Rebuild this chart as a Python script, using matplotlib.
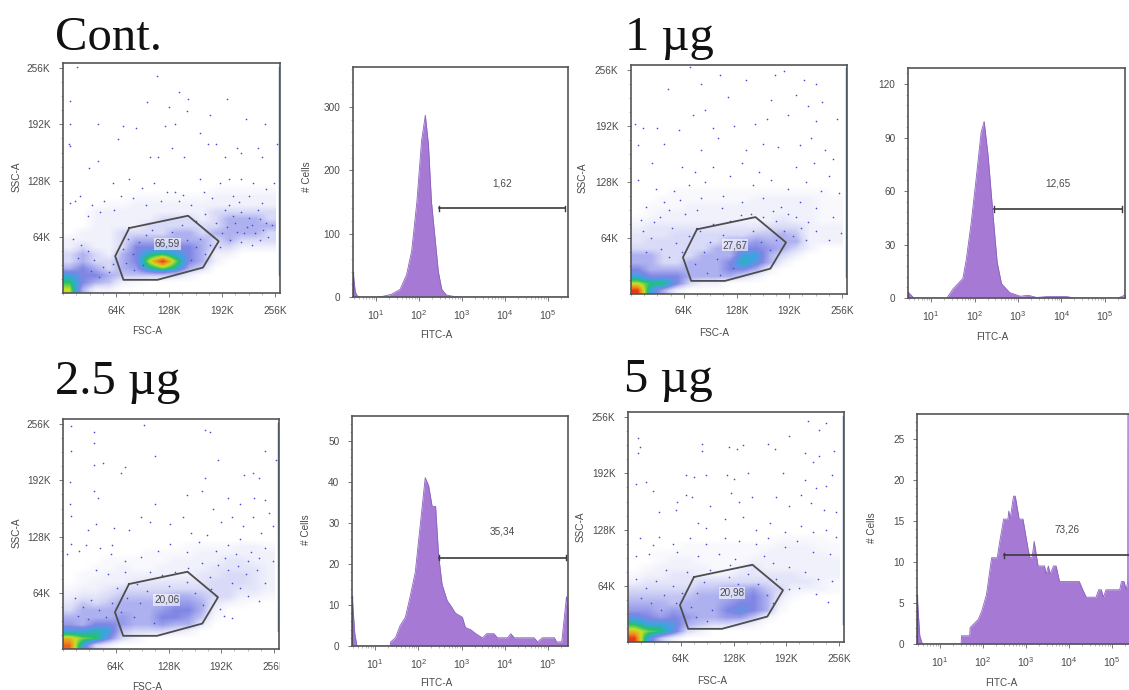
import matplotlib
matplotlib.use('Agg')
import matplotlib.pyplot as plt
from matplotlib.colors import LinearSegmentedColormap
from matplotlib.ticker import AutoMinorLocator, FixedLocator, NullFormatter
from matplotlib.transforms import Bbox, IdentityTransform, TransformedBbox

plt.rcParams['font.family'] = ['Liberation Sans', 'DejaVu Sans']
plt.rcParams['mathtext.default'] = 'regular'

W, H = 1129, 690
GREY = '#4a4a4a'
PURPLE = '#a67ad4'

# gate polygon (k units), same on every dot plot
gate_x = [80, 151, 188, 169, 114, 73, 63, 80]
gate_y = [74, 88, 59, 29, 15, 15, 42, 74]
grid_x = [0, 256]
grid_y = [0, 128]
scatter_ticks = [64, 128, 192, 256]
scatter_labels = ['64K', '128K', '192K', '256K']

# density read by eye, 16k columns, 8k rows, bottom row first (0 white .. 9 red)
cont_grid = [
    [7, 3, 1, 1, 0, 0, 0, 0, 0, 0, 0, 0, 0, 0, 0, 0],
    [6, 4, 3, 2.5, 1, 0.5, 0, 0, 0, 0, 0, 0, 0, 0, 0, 0],
    [5, 4, 4, 3, 2.5, 2.5, 2.5, 2.5, 2, 1, 0, 0, 0, 0, 0, 0],
    [3, 4, 3, 2, 3, 3.5, 5.5, 6.5, 5.5, 3, 2, 0, 0, 0, 0, 0],
    [2, 3, 2, 2, 3, 4, 7, 9, 6.5, 4, 3, 1, 0, 0, 0, 0],
    [2, 3, 2, 1, 3, 4, 5.5, 6, 5, 4, 3, 1, 1, 0, 0, 0],
    [1, 2, 1, 1, 2, 4, 4, 4, 4, 4, 3, 2, 2, 1, 1, 1],
    [1, 1, 1, 1, 2, 3, 3, 3, 3, 3, 3, 2, 3, 2, 2, 2],
    [0, 1, 1, 1, 2, 2, 2, 2, 3, 3, 2, 3, 3, 3, 3, 2],
    [0, 0, 1, 1, 1, 1, 2, 2, 2, 2, 2, 2, 3, 3, 3, 3],
    [0, 0, 1, 1, 1, 1, 1, 2, 2, 2, 1, 2, 3, 3, 3, 2],
    [0, 0, 1, 1, 1, 1, 1, 1, 1, 1, 1, 2, 2, 2, 2, 2],
    [0, 0, 0, 0.5, 0.5, 1, 1, 1, 1, 1, 1, 1, 1, 1, 1, 1],
    [0, 0, 0, 0, 0, 0.5, 0.5, 0.5, 0.5, 0.5, 0.5, 1, 1, 1, 1, 1],
    [0, 0, 0, 0, 0, 0, 0, 0, 0, 0, 0, 0.5, 0.5, 0.5, 0.5, 0.5],
    [0, 0, 0, 0, 0, 0, 0, 0, 0, 0, 0, 0, 0, 0, 0, 0],
]
ug1_grid = [
    [9, 5, 3, 1, 0, 0, 0, 0, 0, 0, 0, 0, 0, 0, 0, 0],
    [7, 6, 6, 4, 2, 1, 1, 0, 0, 0, 0, 0, 0, 0, 0, 0],
    [5, 4, 4, 4, 3, 3, 3, 3, 2, 1, 0, 0, 0, 0, 0, 0],
    [4, 3, 3, 3, 3, 3, 3, 4, 4, 3, 1, 0, 0, 0, 0, 0],
    [3, 3, 2, 2, 3, 3, 3, 4, 5.5, 4.5, 3, 1, 0, 0, 0, 0],
    [3, 3, 2, 2, 2, 3, 3, 3, 5, 5, 3, 2, 1, 0, 0, 0],
    [2, 2, 2, 2, 2, 2, 3, 3, 4, 4, 3.5, 3, 2, 1, 0, 0],
    [1.5, 2, 2, 2, 2, 2, 2, 3, 3, 3.5, 3, 3, 3, 1, 1, 1],
    [1.5, 1.5, 1.5, 2, 2, 2, 2, 2, 2, 2.5, 2.5, 3, 2.5, 1, 1, 1],
    [1, 1.5, 1.5, 1.5, 1.5, 1.5, 1.5, 1.5, 1.5, 1.5, 2, 2, 2, 1, 1, 1],
    [0.5, 1, 1, 1, 1, 1, 1, 1, 1, 1, 1, 1.5, 1, 1, 0.5, 0.5],
    [0, 0.5, 1, 1, 1, 1, 1, 1, 1, 1, 1, 1, 1, 1, 0.5, 0.5],
    [0, 0.5, 0.5, 0.5, 1, 1, 1, 1, 1, 1, 1, 1, 1, 1, 0.5, 0.5],
    [0, 0, 0.5, 0.5, 0.5, 0.5, 0.5, 0.5, 0.5, 1, 1, 1, 1, 1, 0.5, 0.5],
    [0, 0, 0, 0.5, 0.5, 0.5, 0.5, 0.5, 0.5, 0.5, 0.5, 0.5, 0.5, 0.5, 0.5, 0],
    [0, 0, 0, 0, 0, 0, 0, 0, 0, 0, 0, 0, 0, 0, 0, 0],
]
ug25_grid = [
    [8.5, 5, 2, 1, 0, 0, 0, 0, 0, 0, 0, 0, 0, 0, 0, 0],
    [7.5, 6.5, 6, 4, 2, 1, 0, 0, 0, 0, 0, 0, 0, 0, 0, 0],
    [5, 5, 5.5, 5, 2.5, 2, 2, 2, 1.5, 1, 0, 0, 0, 0, 0, 0],
    [3.5, 3, 4, 4, 3.5, 3, 3, 3.5, 3, 3, 1.5, 0, 0, 0, 0, 0],
    [3, 3, 3, 3, 3.5, 3, 3, 4, 4, 3.5, 2.5, 0.5, 0, 0, 0, 0],
    [2, 3, 3, 3, 3, 3, 3, 3.5, 4, 4, 3, 1, 0, 0, 0, 0],
    [1.5, 2.5, 2, 2.5, 3, 3, 3, 3, 3.5, 3.5, 3, 1.5, 1, 0.5, 0, 0],
    [1, 1.5, 1.5, 2, 2.5, 2.5, 2.5, 2.5, 3, 3, 2.5, 2, 2, 1, 1, 0.5],
    [0.5, 1, 1, 1.5, 2, 2, 2, 2, 2, 2, 2, 2, 2, 1.5, 1.5, 1],
    [0, 0.5, 1, 1, 1, 1.5, 1.5, 1.5, 1.5, 1.5, 1.5, 2, 2, 2, 1.5, 1],
    [0, 0.5, 0.5, 1, 1, 1, 1, 1, 1, 1, 1.5, 1.5, 2, 2, 1.5, 1],
    [0, 0, 0.5, 0.5, 1, 0.5, 0.5, 1, 1, 1, 1, 1.5, 1.5, 1.5, 1.5, 1],
    [0, 0, 0, 0.5, 0.5, 0.5, 0.5, 0.5, 1, 1, 1, 1, 1.5, 1.5, 1, 1],
    [0, 0, 0, 0, 0, 0, 0.5, 0.5, 0.5, 0.5, 1, 1, 1, 1, 1, 1],
    [0, 0, 0, 0, 0, 0, 0, 0, 0, 0.5, 0.5, 0.5, 0.5, 1, 1, 0.5],
    [0, 0, 0, 0, 0, 0, 0, 0, 0, 0, 0, 0, 0, 0, 0, 0],
]
ug5_grid = [
    [9, 5, 2.5, 1, 0, 0, 0, 0, 0, 0, 0, 0, 0, 0, 0, 0],
    [7.5, 6.5, 6, 4.5, 2, 1, 0, 0, 0, 0, 0, 0, 0, 0, 0, 0],
    [6, 5, 5, 4.5, 3, 2.5, 2, 2, 1.5, 1, 0, 0, 0, 0, 0, 0],
    [4.5, 4, 3.5, 4, 3.5, 3, 3, 3.5, 3.5, 2.5, 1, 0, 0, 0, 0, 0],
    [3.5, 3.5, 3, 3.5, 3, 3, 3, 4, 4.5, 4, 3, 0.5, 0, 0, 0, 0],
    [3, 3, 3, 2.5, 3, 3, 3, 3.5, 4, 4, 3, 1, 0, 0, 0, 0],
    [2.5, 2.5, 2.5, 2.5, 2.5, 3, 3, 3, 3.5, 4, 3, 1.5, 0.5, 0, 0, 0],
    [2, 2, 2, 2, 2, 2.5, 2.5, 3, 3, 3.5, 2.5, 2, 1, 1, 1, 0.5],
    [1, 1.5, 1.5, 1.5, 1.5, 2, 2, 2, 2, 2, 2, 1.5, 1.5, 1.5, 1, 0.5],
    [0.5, 1, 1, 1.5, 1.5, 1, 1, 1, 1.5, 1.5, 1.5, 1.5, 1.5, 1, 1, 1],
    [0, 0.5, 1, 1, 1, 1, 0.5, 0.5, 1, 1.5, 1, 1, 1, 1, 1, 1],
    [0, 0, 0.5, 1, 1, 0.5, 0.5, 0.5, 0.5, 1, 1, 1, 1, 1, 1, 1],
    [0, 0, 0.5, 0.5, 0.5, 0.5, 0.5, 0.5, 0.5, 0.5, 1, 1, 1, 1, 1, 0.5],
    [0, 0, 0, 0, 0.5, 0.5, 0.5, 0.5, 0.5, 0.5, 0.5, 1, 1, 1, 0.5, 0.5],
    [0, 0, 0, 0, 0, 0, 0, 0, 0, 0, 0, 0.5, 0.5, 0.5, 0.5, 0],
    [0, 0, 0, 0, 0, 0, 0, 0, 0, 0, 0, 0, 0, 0, 0, 0],
]

cont_dots = [(17, 257), (8, 219), (114, 247), (140, 229), (151, 221), (102, 218), (128, 212), (150, 207),
             (198, 221), (8, 193), (42, 193), (177, 203), (221, 198), (72, 190), (88, 188), (123, 190),
             (135, 193), (165, 182), (244, 192), (7, 170), (8, 168), (67, 175), (42, 150), (31, 142),
             (105, 155), (115, 155), (132, 165), (146, 155), (175, 170), (185, 170), (195, 155), (215, 160),
             (235, 165), (240, 155), (258, 170), (210, 165), (60, 125), (80, 130), (95, 120), (110, 125),
             (125, 115), (135, 115), (145, 112), (165, 130), (170, 115), (190, 125), (200, 130), (215, 130),
             (230, 125), (245, 118), (255, 125), (225, 110), (205, 110), (180, 108), (155, 100), (140, 105),
             (118, 105), (100, 100), (85, 108), (70, 110), (50, 105), (35, 100), (15, 105), (8, 102),
             (20, 110), (30, 88), (45, 92), (62, 95), (195, 95), (205, 88), (215, 92), (225, 85),
             (235, 95), (245, 80), (198, 75), (210, 70), (222, 75), (232, 68), (242, 72), (252, 78),
             (202, 60), (215, 58), (228, 55), (238, 60), (192, 68), (185, 80), (172, 90), (160, 82),
             (12, 62), (22, 55), (30, 48), (18, 40), (38, 38), (48, 30), (55, 24), (44, 18), (34, 25), (60, 33),
             (72, 50), (78, 62), (84, 44), (92, 58), (100, 66), (108, 72), (118, 62), (132, 70), (144, 78),
             (150, 60), (160, 52), (172, 44), (166, 62), (178, 55), (155, 38), (96, 32), (86, 26), (76, 34),
             (190, 52), (208, 80), (218, 68), (228, 78), (238, 84), (248, 64), (200, 100), (212, 104), (240, 102)]
ug1_dots = [(72, 260), (108, 250), (140, 245), (175, 250), (185, 255), (210, 245), (225, 240), (45, 235),
            (85, 240), (118, 225), (170, 222), (200, 228), (215, 215), (232, 220), (75, 205), (90, 210),
            (5, 195), (15, 190), (32, 190), (58, 188), (100, 190), (125, 192), (150, 195), (165, 200),
            (190, 205), (225, 198), (250, 200), (8, 170), (40, 172), (85, 165), (105, 178), (140, 165),
            (160, 172), (178, 168), (205, 170), (218, 178), (235, 165), (245, 155), (25, 150), (62, 145),
            (78, 140), (100, 145), (135, 150), (155, 140), (200, 145), (222, 150), (240, 135), (8, 130),
            (30, 120), (52, 118), (70, 125), (90, 128), (120, 135), (148, 125), (170, 130), (190, 120),
            (212, 128), (230, 118), (252, 115), (18, 100), (40, 105), (60, 108), (85, 110), (112, 112),
            (135, 105), (160, 110), (182, 100), (205, 105), (225, 98), (245, 88), (12, 85), (35, 88),
            (225, 72), (240, 62), (255, 70), (215, 82), (200, 88), (190, 92), (172, 95), (145, 92),
            (14, 72), (24, 64), (36, 52), (18, 48), (46, 42), (54, 58), (62, 48), (70, 66), (50, 76), (28, 82),
            (78, 34), (88, 48), (96, 60), (104, 40), (112, 68), (124, 30), (136, 62), (148, 72), (158, 60),
            (168, 50), (176, 62), (186, 72), (196, 66), (206, 76), (212, 62), (92, 24), (108, 22), (84, 72), (100, 80),
            (120, 84), (134, 90), (160, 88), (176, 84), (66, 92), (46, 96), (80, 96), (110, 98)]
ug25_dots = [(10, 254), (38, 247), (98, 255), (172, 250), (178, 247), (10, 225), (112, 220), (38, 235),
             (37, 210), (48, 212), (70, 200), (75, 207), (188, 215), (220, 198), (230, 200), (238, 195),
             (258, 215), (245, 225), (172, 195), (8, 190), (38, 180), (42, 172), (8, 165), (10, 152),
             (112, 165), (95, 150), (105, 145), (150, 175), (168, 180), (182, 160), (200, 172), (215, 165),
             (232, 172), (245, 170), (250, 155), (30, 135), (40, 142), (62, 138), (80, 135), (130, 142),
             (145, 150), (155, 132), (175, 130), (192, 145), (205, 150), (218, 140), (230, 150), (240, 132),
             (255, 140), (5, 108), (10, 120), (20, 112), (28, 118), (45, 115), (60, 118), (58, 108),
             (75, 100), (95, 105), (115, 112), (130, 120), (150, 110), (165, 122), (185, 112), (200, 118),
             (215, 125), (228, 110), (245, 115), (255, 100), (40, 90), (55, 85), (75, 88), (105, 88),
             (200, 90), (212, 95), (222, 85), (235, 90), (245, 75), (225, 60), (215, 70), (205, 75),
             (238, 55), (190, 45), (195, 38), (205, 35), (185, 60), (178, 82),
             (14, 58), (24, 48), (34, 56), (44, 44), (52, 36), (60, 52), (18, 38), (30, 34), (70, 42), (78, 58),
             (86, 36), (94, 52), (102, 66), (110, 30), (118, 58), (128, 72), (140, 60), (150, 76), (160, 64),
             (170, 50), (180, 68), (90, 74), (66, 70), (120, 84), (136, 88), (152, 92), (168, 98), (188, 96),
             (196, 104), (210, 108), (224, 100), (238, 104)]
ug5_dots = [(12, 232), (14, 222), (12, 215), (90, 225), (90, 218), (122, 222), (132, 220), (140, 224),
            (170, 225), (178, 220), (195, 235), (218, 252), (240, 250), (232, 242), (215, 215), (225, 205),
            (232, 212), (250, 218), (70, 190), (80, 188), (95, 190), (120, 190), (128, 186), (145, 192),
            (188, 192), (215, 185), (228, 175), (240, 178), (248, 190), (10, 180), (22, 182), (30, 172),
            (60, 160), (70, 168), (78, 165), (100, 155), (125, 170), (135, 160), (150, 165), (180, 165),
            (195, 155), (210, 168), (222, 158), (238, 150), (252, 148), (38, 148), (58, 150), (85, 135),
            (95, 130), (118, 140), (140, 142), (155, 128), (172, 135), (190, 125), (210, 132), (225, 125),
            (240, 128), (252, 120), (15, 118), (30, 110), (38, 120), (55, 112), (75, 118), (95, 112),
            (118, 118), (135, 115), (155, 112), (170, 118), (190, 108), (205, 115), (225, 102), (245, 100),
            (10, 98), (25, 100), (60, 102), (85, 98), (110, 100), (130, 95), (165, 98), (195, 85),
            (215, 80), (230, 72), (248, 70), (195, 60), (208, 62), (228, 55), (242, 45), (180, 72),
            (10, 72), (22, 62), (34, 70), (44, 54), (54, 64), (16, 50), (28, 44), (40, 36), (58, 44), (66, 56),
            (76, 40), (84, 56), (92, 68), (102, 36), (112, 60), (122, 74), (134, 66), (146, 78), (158, 66),
            (168, 54), (176, 44), (82, 28), (96, 24), (46, 82), (72, 80), (100, 82), (124, 88), (148, 88), (176, 90)]

# histograms: log10 of FITC-A and # Cells at each break of the outline
cont_fitc = [0.47, 0.49, 0.52, 0.56, 0.62, 1.0, 1.15, 1.35, 1.56, 1.71, 1.83, 1.95, 2.06, 2.147, 2.22, 2.29, 2.37, 2.45, 2.53, 2.64, 2.8, 3.0, 5.47]
cont_cells = [38, 25, 8, 2, 0, 0, 1, 4, 12, 35, 73, 150, 247, 287, 240, 150, 95, 40, 12, 3, 1, 0, 0]
ug1_fitc = [0.47, 0.52, 0.6, 1.0, 1.36, 1.5, 1.73, 1.81, 1.92, 2.04, 2.15, 2.22, 2.31, 2.43, 2.52, 2.62, 2.81, 3.05, 3.24, 3.43, 3.66, 4.13, 4.28, 5.3, 5.41, 5.47]
ug1_cells = [3, 2, 0, 0, 0, 5, 11, 22, 42, 68, 93, 99, 80, 45, 20, 8, 3, 1, 1.5, 0.3, 0.8, 0.8, 0, 0, 1, 2]
ug25_fitc = [0.47, 0.53, 0.58, 1.35, 1.36, 1.47, 1.58, 1.7, 1.81, 1.93, 2.05, 2.16, 2.24, 2.32, 2.4, 2.47, 2.55, 2.67, 2.74, 2.86, 3.02, 3.09, 3.21, 3.33, 3.48, 3.49, 3.58, 3.75, 3.83, 4.06, 4.07, 4.14, 4.22, 4.68, 4.76, 4.87, 5.15, 5.2, 5.32, 5.43, 5.47]
ug25_cells = [12, 3, 0, 0, 1, 2, 5, 7, 12, 18, 30, 41, 39, 34, 34, 22, 15, 11, 10, 8, 7, 4.5, 4, 3, 2, 2, 3, 3, 2, 2, 2, 3, 2, 2, 1, 2, 2, 1, 1, 12, 9]
ug5_fitc = [0.47, 0.53, 0.59, 1.49, 1.5, 1.69, 1.7, 1.89, 1.97, 2.08, 2.2, 2.33, 2.39, 2.48, 2.58, 2.6, 2.63, 2.71, 2.75, 2.84, 2.93, 3.05, 3.09, 3.14, 3.19, 3.28, 3.43, 3.47, 3.52, 3.56, 3.64, 3.7, 3.78, 4.24, 4.32, 4.4, 4.63, 4.69, 4.75, 4.8, 4.86, 5.18, 5.22, 5.28, 5.33, 5.365, 5.37, 5.47]
ug5_cells = [5.8, 1, 0, 0, 1, 1, 2, 3, 4, 6, 10.5, 10.5, 12.5, 15.2, 15.2, 16.2, 15.2, 18, 18, 15.2, 15.2, 11.5, 10.5, 10.5, 12.5, 9.5, 9.5, 8.5, 9.5, 8.5, 9.5, 9.5, 7.6, 7.6, 6.6, 5.7, 5.7, 6.6, 6.6, 5.7, 6.6, 6.6, 7.6, 7.6, 6.6, 7.6, 28, 28]


def axes_px(fig, left, top, right, bottom):
    return fig.add_axes([left / W, 1 - bottom / H, (right - left) / W, (bottom - top) / H])


def label_px(fig, x, y, s, rotation=0):
    fig.text(x / W, 1 - y / H, s, ha='center', va='center', rotation=rotation, fontsize=7.2, color=GREY)


def title_px(fig, x, y, s):
    fig.text(x / W, 1 - y / H, s, ha='left', va='baseline', fontsize=35, color='#111111',
             family=['Liberation Serif', 'DejaVu Serif'])


def style_axes(ax):
    for sp in ax.spines.values():
        sp.set_color('#555555')
        sp.set_linewidth(1.2)
    ax.tick_params(which='major', length=3, width=0.7, color='#777777', labelsize=7.2, labelcolor=GREY, pad=6)
    ax.tick_params(which='minor', length=1.5, width=0.5, color='#999999')


def dot_plot(fig, box, grid, dots, edge_top, gate_text):
    ax = axes_px(fig, *box)
    ax.imshow(grid, origin='lower', extent=grid_x + grid_y, cmap=density, vmin=0, vmax=9,
              interpolation='bilinear', aspect='auto', zorder=1)
    ax.scatter([d[0] for d in dots], [d[1] for d in dots], s=1.4, c='#4a4ad0', linewidths=0, zorder=2)
    ax.plot([261, 261], [20, edge_top], color='#2f6fb0', lw=1, zorder=2)
    ax.plot(gate_x, gate_y, color='#4d4d4d', lw=1.3, zorder=3)
    ax.text(126, 56, gate_text, ha='center', va='center', fontsize=7.2, color=GREY, zorder=4,
            bbox=dict(fc='white', ec='none', alpha=0.6, pad=0.6))
    ax.set_xlim(0, 262)
    ax.set_ylim(0, 262)
    ax.set_xticks(scatter_ticks, scatter_labels)
    ax.set_yticks(scatter_ticks, scatter_labels)
    ax.xaxis.set_minor_locator(AutoMinorLocator(4))
    ax.yaxis.set_minor_locator(AutoMinorLocator(4))
    style_axes(ax)
    return ax


def histogram(fig, box, fitc, cells, ymax, yticks, yminor, gate_from, gate_to, gate_y_val, gate_text, text_xy):
    ax = axes_px(fig, *box)
    xs = [10 ** v for v in fitc]
    ax.set_xscale('log')
    ax.fill_between(xs, cells, 0, color=PURPLE, lw=0, zorder=1)
    ax.plot(xs, cells, color='#8a62bd', lw=0.6, zorder=2)
    ax.plot([xs[0], xs[0]], [0, cells[0]], color='#3d2a78', lw=1.6, zorder=2)
    ax.plot([10 ** gate_from, 10 ** gate_to], [gate_y_val, gate_y_val], color='#3a3a3a', lw=1.2, zorder=3)
    ax.plot([10 ** gate_from] * 2, [gate_y_val - ymax * 0.012, gate_y_val + ymax * 0.012], color='#3a3a3a', lw=1, zorder=3)
    ax.plot([10 ** gate_to] * 2, [gate_y_val - ymax * 0.012, gate_y_val + ymax * 0.012], color='#3a3a3a', lw=1, zorder=3)
    label_px(fig, text_xy[0], text_xy[1], gate_text)
    ax.set_xlim(10 ** 0.465, 10 ** 5.465)
    ax.set_ylim(0, ymax)
    ax.set_yticks(yticks)
    ax.yaxis.set_minor_locator(FixedLocator(yminor))
    ax.xaxis.set_major_locator(FixedLocator([10, 100, 1000, 10000, 100000]))
    ax.xaxis.set_minor_locator(FixedLocator([m * d for d in (1, 10, 100, 1000, 10000, 100000) for m in range(2, 10)]))
    ax.xaxis.set_minor_formatter(NullFormatter())
    style_axes(ax)
    ax.tick_params(axis='x', which='major', pad=5, labelsize=7.6)
    return ax


density = LinearSegmentedColormap.from_list('flow', [
    '#ffffff', '#f1f1fc', '#d8daf7', '#aeb1ef', '#7f86e4', '#3aa5e0', '#25c070', '#c8e020', '#f09020', '#e83a10'])

fig = plt.figure(figsize=(W / 100, H / 100), dpi=100)

title_px(fig, 55, 50, 'Cont.')
title_px(fig, 625, 50, '1 µg')
title_px(fig, 55, 394, '2.5 µg')
title_px(fig, 624, 392, '5 µg')

dot_plot(fig, (63, 63, 280, 293), cont_grid, cont_dots, 258, '66,59')
label_px(fig, 147, 331, 'FSC-A')
label_px(fig, 17, 177, 'SSC-A', 90)

dot_plot(fig, (631, 65, 847, 294), ug1_grid, ug1_dots, 258, '27,67')
label_px(fig, 714, 333, 'FSC-A')
label_px(fig, 583, 178, 'SSC-A', 90)

ax_e = dot_plot(fig, (63, 419, 279, 649), ug25_grid, ug25_dots, 258, '20,06')
label_px(fig, 147, 687, 'FSC-A')
label_px(fig, 17, 533, 'SSC-A', 90)
# last tick label is cut by the panel edge in the source picture
cut = TransformedBbox(Bbox([[0, 0], [280, H]]), IdentityTransform())
ax_e.get_xticklabels()[-1].set_clip_box(cut)
ax_e.get_xticklabels()[-1].set_clip_on(True)

dot_plot(fig, (628, 412, 844, 642), ug5_grid, ug5_dots, 258, '20,98')
label_px(fig, 712, 681, 'FSC-A')
label_px(fig, 581, 527, 'SSC-A', 90)

histogram(fig, (353, 67, 568, 297), cont_fitc, cont_cells, 363, [0, 100, 200, 300],
          list(range(0, 361, 20)), 2.465, 5.395, 140, '1,62', (502, 183))
label_px(fig, 307, 177, '# Cells', 90)
label_px(fig, 436, 335, 'FITC-A')

histogram(fig, (908, 68, 1125, 298), ug1_fitc, ug1_cells, 129, [0, 30, 60, 90, 120],
          list(range(0, 127, 6)), 2.45, 5.39, 50, '12,65', (1058, 184))
label_px(fig, 992, 337, 'FITC-A')

histogram(fig, (352, 416, 568, 646), ug25_fitc, ug25_cells, 56, [0, 10, 20, 30, 40, 50],
          list(range(0, 56, 2)), 2.49, 5.42, 21.5, '35,34', (502, 532))
label_px(fig, 306, 530, '# Cells', 90)
label_px(fig, 436, 683, 'FITC-A')

histogram(fig, (917, 414, 1132, 644), ug5_fitc, ug5_cells, 28, [0, 5, 10, 15, 20, 25],
          list(range(0, 28, 1)), 2.48, 5.465, 10.8, '73,26', (1067, 529))
label_px(fig, 872, 528, '# Cells', 90)
label_px(fig, 1001, 683, 'FITC-A')

plt.savefig('out.png', dpi=100)
